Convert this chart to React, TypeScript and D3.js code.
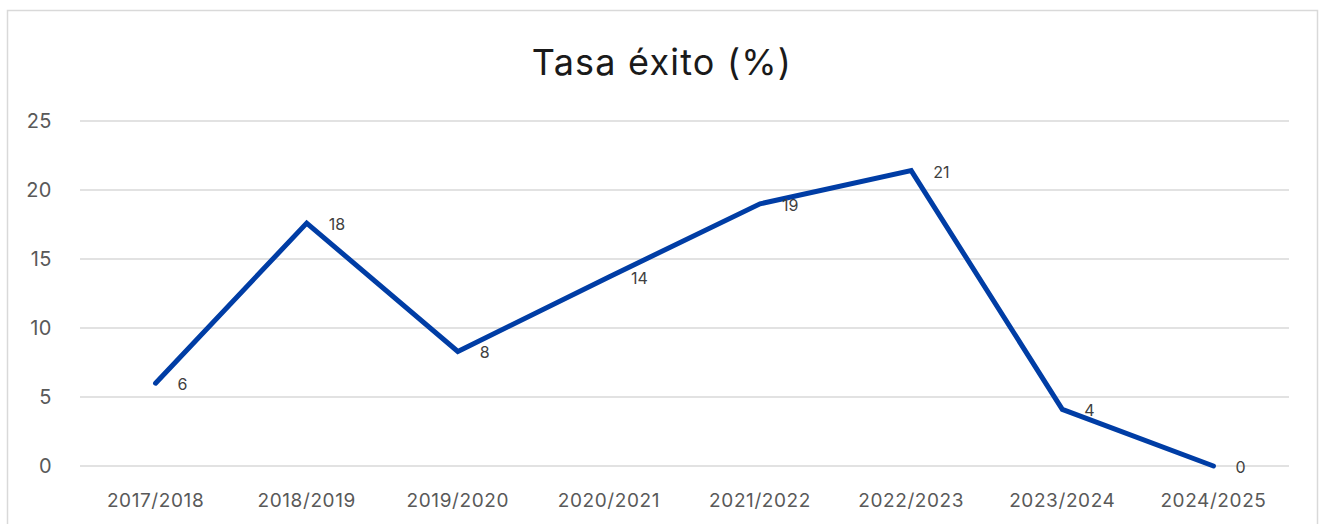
import { useMemo } from 'react'
import * as d3 from 'd3'

const WIDTH = 1322
const HEIGHT = 524
const MARGIN = { top: 121, right: 33, bottom: 58, left: 80 }

const years = ['2017/2018', '2018/2019', '2019/2020', '2020/2021', '2021/2022', '2022/2023', '2023/2024', '2024/2025']
const rates = [6.0, 17.6, 8.3, 13.7, 19.0, 21.4, 4.1, 0]
const labels = ['6', '18', '8', '14', '19', '21', '4', '0']
const yTicks = [0, 5, 10, 15, 20, 25]

const FONT = 'Inter, "Noto Sans", sans-serif'

const App = () => {
  const boundsWidth = WIDTH - MARGIN.left - MARGIN.right
  const boundsHeight = HEIGHT - MARGIN.top - MARGIN.bottom

  const xScale = useMemo(() => d3.scaleBand().domain(years).range([0, boundsWidth]), [boundsWidth])
  const yScale = useMemo(() => d3.scaleLinear().domain([0, 25]).range([boundsHeight, 0]), [boundsHeight])

  const data = years.map((y, i) => ({ year: y, value: rates[i], label: labels[i] }))
  const cx = (y: string) => (xScale(y) ?? 0) + xScale.bandwidth() / 2

  const linePath = d3
    .line<{ year: string; value: number }>()
    .x((d) => cx(d.year))
    .y((d) => yScale(d.value))(data)

  return (
    <svg width={WIDTH} height={HEIGHT} style={{ position: 'absolute', left: 0, top: 0, background: '#fff' }}>
      <rect x={7.5} y={10.5} width={1310} height={540} fill="#fff" stroke="#d9d9d9" strokeWidth={1.5} />
      <text x={662} y={75} textAnchor="middle" fontSize={36} letterSpacing={1.2} fill="#1a1a1a" fontFamily={FONT}>
        Tasa éxito (%)
      </text>
      <g transform={`translate(${MARGIN.left},${MARGIN.top})`}>
        {yTicks.map((t) => (
          <g key={t}>
            <line x1={0} x2={boundsWidth} y1={yScale(t)} y2={yScale(t)} stroke="#d9d9d9" strokeWidth={1.5} />
            <text
              x={-28}
              y={yScale(t)}
              textAnchor="end"
              dominantBaseline="central"
              fontSize={20}
              letterSpacing={0.5}
              fill="#595959"
              fontFamily={FONT}
            >
              {t}
            </text>
          </g>
        ))}
        {years.map((y) => (
          <text
            key={y}
            x={cx(y)}
            y={boundsHeight + 41}
            textAnchor="middle"
            fontSize={19}
            letterSpacing={0.6}
            fill="#595959"
            fontFamily={FONT}
          >
            {y}
          </text>
        ))}
        <path d={linePath ?? ''} fill="none" stroke="#003DA5" strokeWidth={5} strokeLinecap="round" strokeLinejoin="miter" />
        {data.map((d) => (
          <text
            key={d.year}
            x={cx(d.year) + 22}
            y={yScale(d.value) + 7}
            fontSize={16}
            fill="#404040"
            fontFamily={FONT}
          >
            {d.label}
          </text>
        ))}
      </g>
    </svg>
  )
}

export default App
